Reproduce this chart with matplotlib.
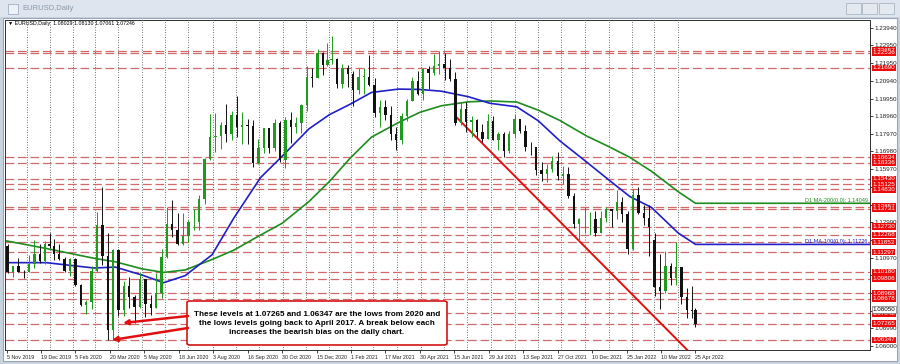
import numpy as np
import pandas as pd
import matplotlib.pyplot as plt
import matplotlib.transforms as mtransforms
from matplotlib.patches import Rectangle, FancyBboxPatch

plt.rcParams['font.family'] = ['Liberation Sans', 'DejaVu Sans']

HOLIDAYS = ['2019-12-25', '2020-01-01', '2020-12-25', '2021-01-01']
ORIGIN = '2019-11-05'

# weekly candles (week of 4 Nov 2019 .. week of 25 Apr 2022)
wk_open = [1.1165, 1.1019, 1.1050, 1.1019, 1.1016, 1.1060, 1.1120, 1.1077, 1.1176,
           1.1165, 1.1120, 1.1090, 1.1025, 1.1093, 1.0944, 1.0831, 1.0847, 1.1025, 1.1285,
           1.1105, 1.0690, 1.1142, 1.0802, 1.0936, 1.0876, 1.0820, 1.0980, 1.0839, 1.0817,
           1.0901, 1.1100, 1.1290, 1.1255, 1.1177, 1.1220, 1.1300, 1.1300, 1.1428, 1.1657,
           1.1778, 1.1786, 1.1844, 1.1796, 1.1902, 1.1838, 1.1845, 1.1840, 1.1632, 1.1715,
           1.1828, 1.1718, 1.1860, 1.1647, 1.1875, 1.1835, 1.1857, 1.1960, 1.2120, 1.2110,
           1.2255, 1.2185,
           1.2215, 1.2220, 1.2080, 1.2170, 1.2135, 1.2045, 1.2120, 1.2120, 1.2070, 1.1915,
           1.1950, 1.1905, 1.1795, 1.1760, 1.1900, 1.1980, 1.2095, 1.2020, 1.2165, 1.2140,
           1.2180, 1.2192, 1.2170, 1.2105, 1.1860, 1.1935, 1.1865, 1.1875, 1.1805, 1.1770,
           1.1870, 1.1760, 1.1795, 1.1700, 1.1795, 1.1880, 1.1815, 1.1725, 1.1720, 1.1590,
           1.1570, 1.1600, 1.1645, 1.1560, 1.1570, 1.1445, 1.1290, 1.1315, 1.1315, 1.1315,
           1.1240, 1.1320,
           1.1370, 1.1360, 1.1410, 1.1345, 1.1145, 1.1450, 1.1350, 1.1320, 1.1200, 1.0935,
           1.0912, 1.1050, 1.0985, 1.1045, 1.0875, 1.0805, 1.0803]
wk_high = [1.1175, 1.1052, 1.1097, 1.1030, 1.1116, 1.1200, 1.1175, 1.1190, 1.1239,
           1.1205, 1.1173, 1.1100, 1.1097, 1.1095, 1.0952, 1.0860, 1.1053, 1.1355, 1.1495,
           1.1237, 1.1147, 1.1147, 1.0965, 1.0990, 1.0890, 1.1020, 1.0980, 1.0890, 1.1010,
           1.1145, 1.1384, 1.1422, 1.1349, 1.1349, 1.1310, 1.1370, 1.1452, 1.1660, 1.1908,
           1.1916, 1.1865, 1.1966, 1.1925, 1.2011, 1.1917, 1.1882, 1.1872, 1.1770, 1.1830,
           1.1830, 1.1880, 1.1870, 1.1890, 1.1920, 1.1893, 1.1964, 1.2178, 1.2167, 1.2273,
           1.2260, 1.2310,
           1.2349, 1.2222, 1.2190, 1.2185, 1.2150, 1.2170, 1.2170, 1.2243, 1.2112, 1.1990,
           1.1990, 1.1955, 1.1835, 1.1915, 1.1995, 1.2115, 1.2150, 1.2170, 1.2182, 1.2245,
           1.2266, 1.2254, 1.2218, 1.2145, 1.1975, 1.1975, 1.1895, 1.1880, 1.1850, 1.1909,
           1.1900, 1.1805, 1.1805, 1.1810, 1.1910, 1.1880, 1.1845, 1.1750, 1.1720, 1.1640,
           1.1625, 1.1670, 1.1692, 1.1615, 1.1610, 1.1465, 1.1320, 1.1383, 1.1355, 1.1360,
           1.1360, 1.1386,
           1.1370, 1.1482, 1.1440, 1.1360, 1.1484, 1.1495, 1.1395, 1.1395, 1.1240, 1.1120,
           1.1137, 1.1070, 1.1185, 1.1045, 1.0925, 1.0936, 1.0813]
wk_low = [1.1014, 1.0989, 1.1015, 1.0981, 1.1016, 1.1040, 1.1066, 1.1065, 1.1150,
          1.1085, 1.1086, 1.1019, 1.0992, 1.0940, 1.0827, 1.0778, 1.0810, 1.1020, 1.1055,
          1.0636, 1.0636, 1.0770, 1.0768, 1.0813, 1.0727, 1.0812, 1.0766, 1.0775, 1.0815,
          1.0870, 1.1094, 1.1212, 1.1168, 1.1170, 1.1185, 1.1256, 1.1255, 1.1403, 1.1650,
          1.1696, 1.1710, 1.1753, 1.1760, 1.1780, 1.1737, 1.1737, 1.1612, 1.1628, 1.1690,
          1.1690, 1.1700, 1.1640, 1.1603, 1.1745, 1.1800, 1.1800, 1.1925, 1.2058, 1.2110,
          1.2130, 1.2180,
          1.2192, 1.2055, 1.2055, 1.2060, 1.1952, 1.2024, 1.2022, 1.2064, 1.1893, 1.1836,
          1.1873, 1.1762, 1.1704, 1.1740, 1.1870, 1.1980, 1.2015, 1.1985, 1.2052, 1.2130,
          1.2132, 1.2103, 1.2093, 1.1847, 1.1848, 1.1807, 1.1781, 1.1772, 1.1752, 1.1770,
          1.1760, 1.1706, 1.1664, 1.1690, 1.1775, 1.1800, 1.1700, 1.1680, 1.1563, 1.1529,
          1.1525, 1.1580, 1.1535, 1.1515, 1.1433, 1.1263, 1.1186, 1.1235, 1.1227, 1.1222,
          1.1235, 1.1300,
          1.1272, 1.1315, 1.1300, 1.1121, 1.1143, 1.1345, 1.1280, 1.1106, 1.0883, 1.0806,
          1.0900, 1.0945, 1.0945, 1.0837, 1.0757, 1.0759, 1.0706]
wk_close = [1.1019, 1.1050, 1.1019, 1.1016, 1.1060, 1.1120, 1.1077, 1.1176, 1.1165,
            1.1120, 1.1090, 1.1025, 1.1093, 1.0944, 1.0831, 1.0847, 1.1025, 1.1285, 1.1105,
            1.0690, 1.1142, 1.0802, 1.0936, 1.0876, 1.0820, 1.0980, 1.0839, 1.0817, 1.0901,
            1.1100, 1.1290, 1.1255, 1.1177, 1.1220, 1.1300, 1.1300, 1.1428, 1.1657, 1.1778,
            1.1786, 1.1844, 1.1796, 1.1902, 1.1838, 1.1845, 1.1840, 1.1632, 1.1715, 1.1828,
            1.1718, 1.1860, 1.1647, 1.1875, 1.1835, 1.1857, 1.1960, 1.2120, 1.2110, 1.2255,
            1.2185, 1.2215,
            1.2220, 1.2080, 1.2170, 1.2135, 1.2045, 1.2120, 1.2120, 1.2070, 1.1915, 1.1950,
            1.1905, 1.1795, 1.1760, 1.1900, 1.1980, 1.2095, 1.2020, 1.2165, 1.2140, 1.2180,
            1.2192, 1.2170, 1.2105, 1.1860, 1.1935, 1.1865, 1.1875, 1.1805, 1.1770, 1.1870,
            1.1760, 1.1795, 1.1700, 1.1795, 1.1880, 1.1815, 1.1725, 1.1720, 1.1590, 1.1570,
            1.1600, 1.1645, 1.1560, 1.1570, 1.1445, 1.1290, 1.1315, 1.1315, 1.1315, 1.1240,
            1.1320, 1.1370,
            1.1360, 1.1410, 1.1345, 1.1145, 1.1450, 1.1350, 1.1320, 1.1270, 1.0935, 1.0912,
            1.1050, 1.0985, 1.1045, 1.0875, 1.0805, 1.0795, 1.0725]
weeks = pd.date_range('2019-11-04', periods=len(wk_close), freq='W-MON')

# moving averages
ma_dates = ['2019-11-01', '2019-12-27', '2020-02-28', '2020-03-27', '2020-05-01',
            '2020-05-29', '2020-06-26', '2020-07-31', '2020-08-28', '2020-10-02',
            '2020-10-30', '2020-12-04', '2021-01-01', '2021-01-29', '2021-02-26',
            '2021-04-02', '2021-04-30', '2021-05-28', '2021-07-02', '2021-07-30',
            '2021-09-03', '2021-10-01', '2021-10-29', '2021-12-03', '2021-12-31',
            '2022-01-28', '2022-02-25', '2022-04-01', '2022-04-25']
ma100 = [1.1070, 1.1070, 1.1040, 1.1045, 1.1000, 1.0957, 1.0997, 1.1115, 1.1320, 1.1550,
         1.1670, 1.1825, 1.1905, 1.1963, 1.2030, 1.2049, 1.2047, 1.2037, 1.2006, 1.1969,
         1.1949, 1.1870, 1.1757, 1.1637, 1.1539, 1.1443, 1.1382, 1.1237, 1.1173]
ma200 = [1.1195, 1.1150, 1.1095, 1.1075, 1.1035, 1.1015, 1.1029, 1.1088, 1.1140, 1.1226,
         1.1292, 1.1415, 1.1528, 1.1658, 1.1778, 1.1860, 1.1918, 1.1955, 1.1977, 1.1982,
         1.1976, 1.1930, 1.1872, 1.1784, 1.1726, 1.1664, 1.1586, 1.1470, 1.1405]
ma100_label = 'D1 MA-100(0,0): 1.11726'
ma200_label = 'D1 MA-200(0,0): 1.14049'

levels = [1.22657, 1.22536, 1.21690, 1.16634, 1.16336, 1.15430, 1.15125, 1.14830,
          1.13857, 1.13731, 1.12730, 1.12268, 1.11853, 1.11297, 1.10180, 1.09806,
          1.08968, 1.08678, 1.07842, 1.07265, 1.06347]
bid_level = 1.08050

price_ticks = [1.06000, 1.06990, 1.07990, 1.08980, 1.09980, 1.10970, 1.11970, 1.12990,
               1.13980, 1.14970, 1.15970, 1.16980, 1.17970, 1.18960, 1.19950, 1.20940,
               1.21950, 1.22950, 1.23940]
# scale labels that sit fully under a price box in the reference
hidden_ticks = [1.07990, 1.08980, 1.09980, 1.11970, 1.13980, 1.14970]
date_ticks = ['2019-11-05', '2019-12-19', '2020-02-05', '2020-03-20', '2020-05-05',
              '2020-06-18', '2020-08-03', '2020-09-16', '2020-10-30', '2020-12-15',
              '2021-02-01', '2021-03-17', '2021-04-30', '2021-06-15', '2021-07-29',
              '2021-09-13', '2021-10-27', '2021-12-10', '2022-01-25', '2022-03-10',
              '2022-04-25']

trend_dates = ['2021-06-17', '2022-04-21']
trend_prices = [1.1890, 1.0543]

header = '\u25bc EURUSD,Daily  1.08029 1.08130 1.07061 1.07246'
note = ('These levels at 1.07265 and 1.06347 are the lows from 2020 and\n'
        'the lows levels going back to April 2017. A break below each\n'
        'increases the bearish bias on the daily chart.')


def bar(d):
    d = np.asarray(d, dtype='datetime64[D]')
    return np.busday_count(ORIGIN, d, holidays=HOLIDAYS)


W, H = 900, 364


def fx(px):
    return px / W


def fy(py):
    return 1 - py / H


fig = plt.figure(figsize=(9, 3.64), dpi=100)
fig.patch.set_facecolor('#c9d3df')
fig.patches.append(Rectangle((0, fy(17)), 1, 1 - fy(17), transform=fig.transFigure,
                             fc='#dfe5ee', ec='none', zorder=-2))
fig.patches.append(Rectangle((fx(3), fy(361)), fx(894), fy(18) - fy(361),
                             transform=fig.transFigure, fc='white', ec='#98a6b8',
                             lw=0.8, zorder=-2))
fig.patches.append(Rectangle((fx(8), fy(14)), fx(10), fy(4) - fy(14), transform=fig.transFigure,
                             fc='#eef2f7', ec='#9fb0c4', lw=0.6, zorder=-1))
for bx in [846, 862, 879]:
    fig.patches.append(Rectangle((fx(bx), fy(14)), fx(15), fy(3) - fy(14),
                                 transform=fig.transFigure, fc='#e4e9f0', ec='#a9b6c6',
                                 lw=0.6, zorder=-1))
fig.text(fx(22), fy(9), 'EURUSD,Daily', fontsize=5.5, color='#8a98aa', va='center')

ax = fig.add_axes([fx(5), fy(350), fx(870) - fx(5), fy(20) - fy(350)])
ax.set_zorder(2)
ax.set_facecolor('white')
x_lo, x_hi = -1.4, 802.1
y_lo, y_hi = 1.05774, 1.24387
ax.set_xlim(x_lo, x_hi)
ax.set_ylim(y_lo, y_hi)

# monthly grid
months = pd.date_range('2019-12-01', '2022-05-01', freq='BMS')
for m in bar(months.values):
    ax.axvline(m, color='#444444', lw=0.6, ls=(0, (1, 2)), zorder=0.5)

# support / resistance levels
for lv in levels:
    ax.axhline(lv, color='#d06a6a', lw=0.9, ls=(0, (7, 3)), zorder=1)

# trend line
ax.plot(bar(trend_dates), trend_prices, color='#e01010', lw=1.4, zorder=2.5)

# moving averages, extended flat to the right edge
mx = np.append(bar(ma_dates), x_hi)
ax.plot(mx, ma200 + [ma200[-1]], color='#1e8c1e', lw=1.2, zorder=2)
ax.plot(mx, ma100 + [ma100[-1]], color='#2020c8', lw=1.2, zorder=2)
ax.text(x_hi - 2, ma200[-1] + 0.0004, ma200_label, ha='right', va='bottom',
        fontsize=4, color='#1e8c1e', zorder=4)
ax.text(x_hi - 2, ma100[-1] + 0.0004, ma100_label, ha='right', va='bottom',
        fontsize=4, color='#2020c8', zorder=4)

# candles
xw = bar(weeks.values).astype(float) + 2
xw[-1] -= 2
o = np.array(wk_open)
c = np.array(wk_close)
up = c >= o
cols = np.where(up, '#1f9a1f', '#111111')
ax.vlines(xw, wk_low, wk_high, colors=cols, lw=0.7, zorder=3)
ax.bar(xw, np.where(np.abs(c - o) < 0.0002, 0.0002, c - o), bottom=o, width=2.2,
       color=cols, lw=0, zorder=3)

ax.text(0.004, 1 - 4 / 330, header, transform=ax.transAxes, fontsize=3.8,
        va='center', ha='left', color='black', zorder=6)

# axes styling
for s in ax.spines.values():
    s.set_color('#303030')
    s.set_linewidth(0.7)
ax.yaxis.tick_right()
ax.set_yticks(price_ticks)
ax.set_yticklabels(['' if p in hidden_ticks else f'{p:.5f}' for p in price_ticks])
ax.tick_params(axis='y', length=2, width=0.6, pad=1.5, labelsize=4.5, colors='#222222')
ax.set_xticks(bar(date_ticks))
ax.set_xticklabels([f'{pd.Timestamp(d).day} {pd.Timestamp(d).strftime("%b %Y")}'
                    for d in date_ticks])
ax.tick_params(axis='x', length=2, width=0.6, pad=1.5, labelsize=3.8, colors='#222222')
for lab in ax.get_xticklabels():
    lab.set_ha('left')

# price boxes on the scale
trans = mtransforms.blended_transform_factory(ax.transAxes, ax.transData)
for lv in levels:
    ax.text(1.003, lv, f'{lv:.5f}', transform=trans, ha='left', va='center',
            fontsize=4.5, color='white', clip_on=False, zorder=7,
            bbox=dict(boxstyle='square,pad=0.12', fc='#ee0a0a', ec='none'))
ax.text(1.003, bid_level, f'{bid_level:.5f}', transform=trans, ha='left', va='center',
        fontsize=4.5, color='black', clip_on=False, zorder=7,
        bbox=dict(boxstyle='square,pad=0.12', fc='white', ec='#777777', lw=0.5))

# annotation box and arrows
ax.add_patch(FancyBboxPatch((fx(187), fy(345)), fx(260), fy(301) - fy(345),
                            boxstyle='round,pad=0,rounding_size=0.004',
                            transform=fig.transFigure, fc='white', ec='#d41414',
                            lw=1.2, zorder=8, clip_on=False))
ax.text(fx(317), fy(323.5), note, transform=fig.transFigure, ha='center', va='center',
        fontsize=5.9, fontweight='bold', linespacing=1.35, color='black', zorder=9)
for tail, head in [((188, 316), (123, 323)), ((188, 328), (112, 340))]:
    ax.annotate('', xy=(fx(head[0]), fy(head[1])), xytext=(fx(tail[0]), fy(tail[1])),
                xycoords='figure fraction', textcoords='figure fraction',
                arrowprops=dict(arrowstyle='-|>', color='#e01010', lw=1.8,
                                mutation_scale=7, shrinkA=0, shrinkB=0),
                zorder=8)

fig.savefig('out.png', dpi=100)
